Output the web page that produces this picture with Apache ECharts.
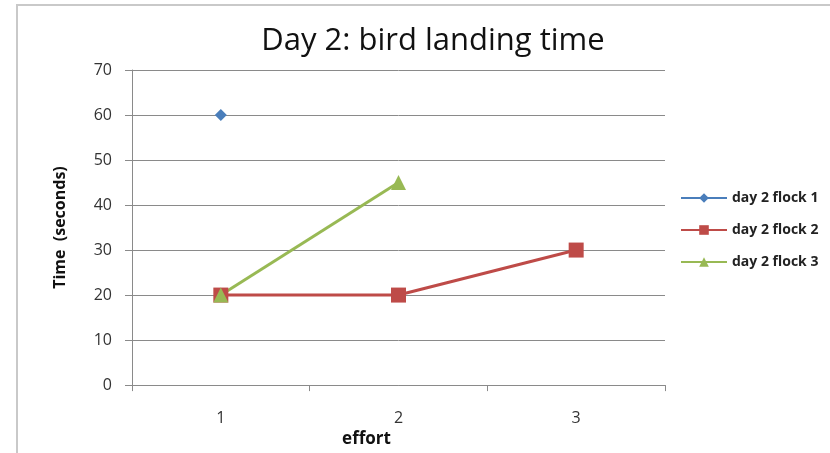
<!DOCTYPE html>
<html>
<head>
<meta charset="utf-8">
<script src="https://cdn.jsdelivr.net/npm/echarts@6/dist/echarts.min.js"></script>
<style>
  html, body { margin: 0; padding: 0; background: #fff; }
  #frame { position: absolute; left: 16px; top: 4px; width: 830px; height: 460px; border: 2px solid #c9c9c9; box-sizing: border-box; }
  #chart { position: absolute; left: 0; top: 0; width: 830px; height: 453px; }
</style>
</head>
<body>
<div id="frame"></div>
<div id="chart"></div>
<script>
// Landing times per effort for each flock on day 2
const efforts = ['1', '2', '3'];
const flock1 = [60, null, null];
const flock2 = [20, 20, 30];
const flock3 = [20, 45, null];
const yTicks = { min: 0, max: 70, interval: 10 };

const font = '"Open Sans", "Liberation Sans", sans-serif';
const chart = echarts.init(document.getElementById('chart'), null, { renderer: 'canvas' });

chart.setOption({
  backgroundColor: 'transparent',
  animation: false,
  title: {
    text: 'Day 2: bird landing time',
    left: 428, top: 21, textAlign: 'center',
    textStyle: { fontFamily: font, fontSize: 31, fontWeight: 'normal', color: '#111' }
  },
  legend: {
    orient: 'vertical', left: 675, top: 186,
    itemWidth: 46, itemHeight: 12, itemGap: 18,
    textStyle: { fontFamily: font, fontSize: 14, fontWeight: 'bold', color: '#222' },
    data: ['day 2 flock 1', 'day 2 flock 2', 'day 2 flock 3']
  },
  grid: { left: 132, right: 165, top: 70, bottom: 64 },
  xAxis: {
    type: 'category', data: efforts, boundaryGap: true,
    name: 'effort', nameLocation: 'middle', nameGap: 43,
    nameTextStyle: { fontFamily: font, fontSize: 17, fontWeight: 'bold', color: '#111', padding: [0, 64, 0, 0] },
    axisLine: { lineStyle: { color: '#8a8a8a', width: 1 } },
    axisTick: { show: true, alignWithLabel: false, length: 6, lineStyle: { color: '#8a8a8a' } },
    axisLabel: { margin: 25, fontFamily: font, fontSize: 16, color: '#333' }
  },
  yAxis: {
    type: 'value', min: yTicks.min, max: yTicks.max, interval: yTicks.interval,
    name: 'Time  (seconds)', nameLocation: 'middle', nameGap: 64, nameRotate: 90,
    nameTextStyle: { fontFamily: font, fontSize: 16, fontWeight: 'bold', color: '#111' },
    axisLine: { show: true, lineStyle: { color: '#8a8a8a', width: 1 } },
    axisTick: { show: true, inside: false, length: 7, lineStyle: { color: '#8a8a8a' } },
    axisLabel: { margin: 20, fontFamily: font, fontSize: 16, color: '#333' },
    splitLine: { lineStyle: { color: '#8a8a8a', width: 1 } }
  },
  series: [
    {
      name: 'day 2 flock 1', type: 'line', data: flock1,
      symbol: 'diamond', symbolSize: 12,
      itemStyle: { color: '#4a7ebb' }, lineStyle: { color: '#4a7ebb', width: 2.5 }
    },
    {
      name: 'day 2 flock 2', type: 'line', data: flock2,
      symbol: 'rect', symbolSize: 15,
      itemStyle: { color: '#be4b48' }, lineStyle: { color: '#be4b48', width: 3 }
    },
    {
      name: 'day 2 flock 3', type: 'line', data: flock3,
      symbol: 'triangle', symbolSize: 15,
      itemStyle: { color: '#98b954' }, lineStyle: { color: '#98b954', width: 3 }
    }
  ]
});
</script>
</body>
</html>
